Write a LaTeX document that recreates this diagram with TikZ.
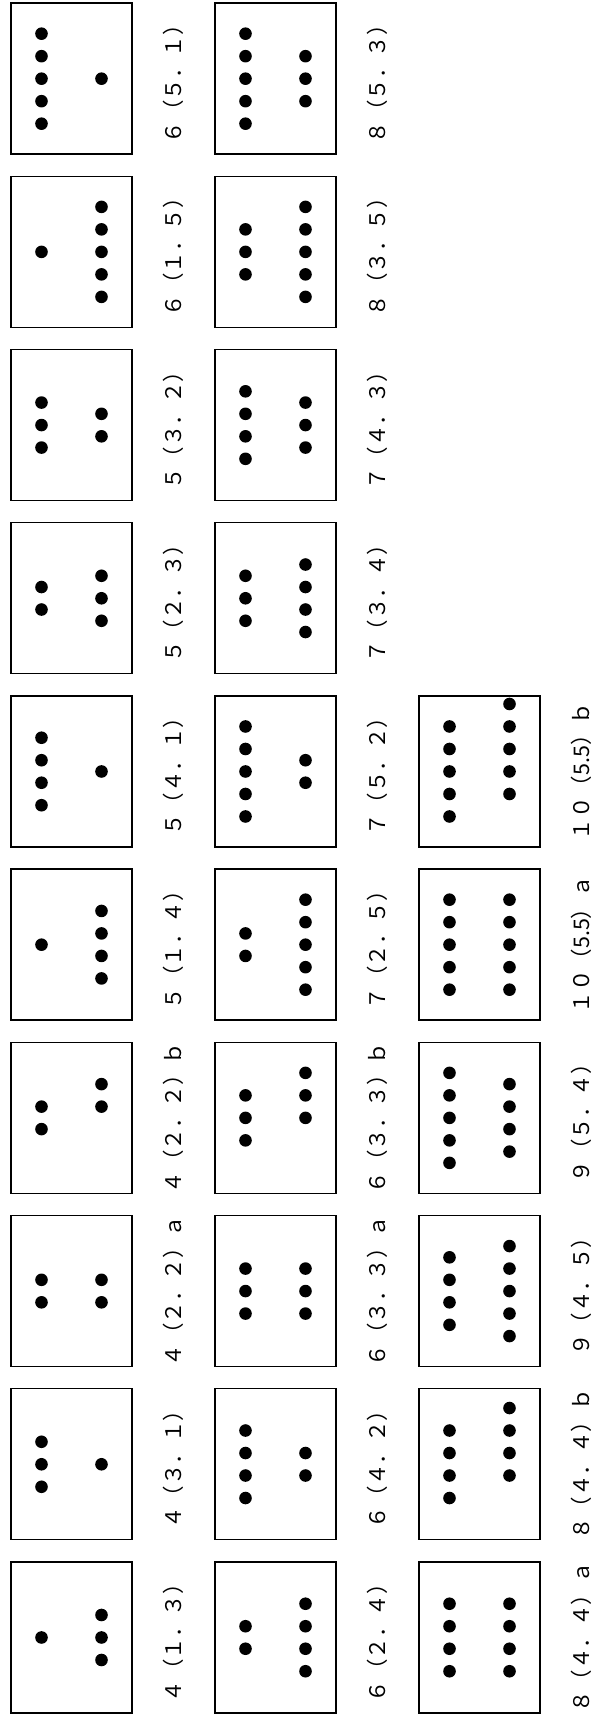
\documentclass[tikz,border=0pt]{standalone}
\usepackage{fontspec}
\newfontfamily\jpfont{Noto Sans CJK JP}
\tikzset{
    pairbox/.style={draw=black, line width=1.4pt},
    pairlabel/.style={rotate=90, font=\jpfont\fontsize{21.5}{26}\selectfont}
}
% #1 column x, #2 row from the bottom, #3 left dots, #4 right dots,
% #5 shift of the right column, #6 node name, #7 label
\newcommand{\domino}[7]{%
    \draw [pairbox] (#1, {4+173.2*#2}) rectangle ++(121,151);
    \foreach \i in {1,...,#3}
        \fill (#1+30.5, {4+173.2*#2+75.5+(\i-(#3+1)/2)*22.5}) circle (6.3pt);
    \foreach \i in {1,...,#4}
        \fill (#1+90.5, {4+173.2*#2+75.5+(\i-(#4+1)/2+#5)*22.5}) circle (6.3pt);
    \node[pairlabel] (#6) at (#1+162, {4+173.2*#2+75.5}) {#7};
}
\begin{document}
\begin{tikzpicture}[x=1pt, y=1pt]
        \useasboundingbox (0, 0) rectangle (596, 1717);

        \domino{11}{0}{1}{3}{0}{c1r0}{４（１．３）}
        \domino{11}{1}{3}{1}{0}{c1r1}{４（３．１）}
        \domino{11}{2}{2}{2}{0}{c1r2}{４（２．２）ａ}
        \domino{11}{3}{2}{2}{1}{c1r3}{４（２．２）ｂ}
        \domino{11}{4}{1}{4}{0}{c1r4}{５（１．４）}
        \domino{11}{5}{4}{1}{0}{c1r5}{５（４．１）}
        \domino{11}{6}{2}{3}{0}{c1r6}{５（２．３）}
        \domino{11}{7}{3}{2}{0}{c1r7}{５（３．２）}
        \domino{11}{8}{1}{5}{0}{c1r8}{６（１．５）}
        \domino{11}{9}{5}{1}{0}{c1r9}{６（５．１）}

        \domino{215}{0}{2}{4}{0}{c2r0}{６（２．４）}
        \domino{215}{1}{4}{2}{0}{c2r1}{６（４．２）}
        \domino{215}{2}{3}{3}{0}{c2r2}{６（３．３）ａ}
        \domino{215}{3}{3}{3}{1}{c2r3}{６（３．３）ｂ}
        \domino{215}{4}{2}{5}{0}{c2r4}{７（２．５）}
        \domino{215}{5}{5}{2}{0}{c2r5}{７（５．２）}
        \domino{215}{6}{3}{4}{0}{c2r6}{７（３．４）}
        \domino{215}{7}{4}{3}{0}{c2r7}{７（４．３）}
        \domino{215}{8}{3}{5}{0}{c2r8}{８（３．５）}
        \domino{215}{9}{5}{3}{0}{c2r9}{８（５．３）}

        \domino{419}{0}{4}{4}{0}{c3r0}{８（４．４）ａ}
        \domino{419}{1}{4}{4}{1}{c3r1}{８（４．４）ｂ}
        \domino{419}{2}{4}{5}{0}{c3r2}{９（４．５）}
        \domino{419}{3}{5}{4}{0}{c3r3}{９（５．４）}
        \domino{419}{4}{5}{5}{0}{c3r4}{１０（5.5）ａ}
        \domino{419}{5}{5}{5}{1}{c3r5}{１０（5.5）ｂ}
    \end{tikzpicture}
\end{document}
